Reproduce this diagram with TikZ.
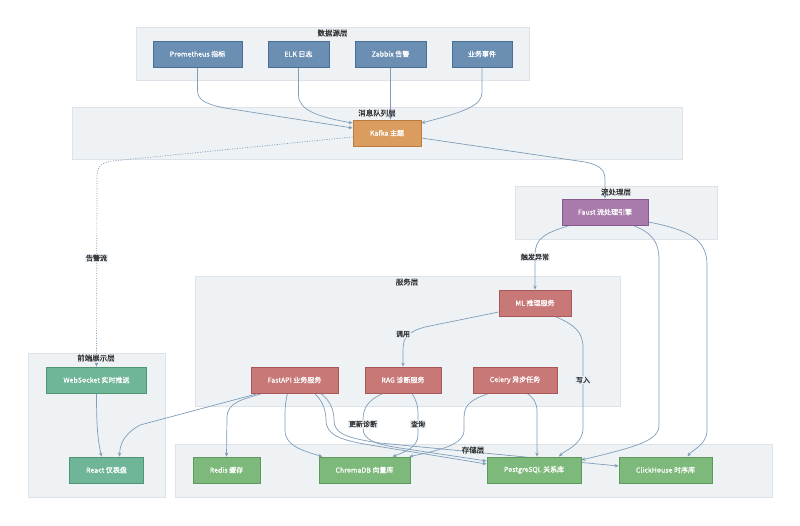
\documentclass[tikz,border=0pt]{standalone}
\usepackage{fontspec}
\setmainfont{Noto Sans CJK SC}[BoldFont=Noto Sans CJK SC, BoldFeatures={FakeBold=0.7}]
\usetikzlibrary{arrows.meta,calc}
\pgfdeclarelayer{bg}
\pgfdeclarelayer{edges}
\pgfsetlayers{bg,edges,main}
\definecolor{srcfill}{HTML}{6B8EB3}
\definecolor{srcdraw}{HTML}{4A6E96}
\definecolor{kfill}{HTML}{DB9D5F}
\definecolor{kdraw}{HTML}{BC7B3C}
\definecolor{ffill}{HTML}{A97BAC}
\definecolor{fdraw}{HTML}{87598B}
\definecolor{svfill}{HTML}{C97878}
\definecolor{svdraw}{HTML}{A95757}
\definecolor{stfill}{HTML}{7DB97A}
\definecolor{stdraw}{HTML}{5C9A59}
\definecolor{fefill}{HTML}{6FB597}
\definecolor{fedraw}{HTML}{4F9677}
\definecolor{clfill}{HTML}{EEF2F5}
\definecolor{cldraw}{HTML}{DDE3E8}
\definecolor{edgec}{HTML}{7F9DB9}
\definecolor{lblfill}{HTML}{E6EDF4}
\definecolor{titletext}{HTML}{333333}
\tikzset{
  box/.style={rectangle, draw, line width=0.8pt, minimum height=26pt, inner sep=0pt, text=white, font=\fontsize{7}{8}\selectfont\bfseries},
  src/.style={box, fill=srcfill, draw=srcdraw},
  kaf/.style={box, fill=kfill, draw=kdraw},
  fst/.style={box, fill=ffill, draw=fdraw},
  svc/.style={box, fill=svfill, draw=svdraw},
  sto/.style={box, fill=stfill, draw=stdraw},
  fe/.style={box, fill=fefill, draw=fedraw},
  cluster/.style={draw=cldraw, fill=clfill, line width=0.6pt},
  ctitle/.style={font=\fontsize{7.5}{8}\selectfont\bfseries, text=titletext, inner sep=0pt},
  flow/.style={draw=edgec, line width=0.7pt, -{Stealth[length=4pt,width=3.5pt]}},
  dotflow/.style={flow, dash pattern=on 1pt off 1.5pt},
  elabel/.style={fill=lblfill, text=titletext, font=\fontsize{7}{8}\selectfont\bfseries, inner sep=1pt}
}
\begin{document}
\begin{tikzpicture}[x=1pt,y=-1pt]
\useasboundingbox (0,0) rectangle (800,525);
% clusters
\begin{pgfonlayer}{bg}
\fill[white] (0,0) rectangle (800,525);
\draw[cluster] (136,27) rectangle (529,80);
\draw[cluster] (72,107) rectangle (682,159);
\draw[cluster] (515,186) rectangle (717,239);
\draw[cluster] (195,276) rectangle (620,406);
\draw[cluster] (28,353) rectangle (165,497);
\draw[cluster] (175,444) rectangle (772,497);
\end{pgfonlayer}
\node[ctitle] (t1) at (332.5,33) {数据源层};
\node[ctitle] (t2) at (377,113) {消息队列层};
\node[ctitle] (t3) at (616,192) {流处理层};
\node[ctitle] (t4) at (407,282) {服务层};
\node[ctitle] (t5) at (96,358) {前端展示层};
\node[ctitle] (t6) at (473,450) {存储层};
% nodes
\node[src, minimum width=89pt] (prom) at (197.5,54) {Prometheus 指标};
\node[src, minimum width=61pt] (elk) at (298.5,54) {ELK 日志};
\node[src, minimum width=71pt] (zab) at (390.5,54) {Zabbix 告警};
\node[src, minimum width=60pt] (biz) at (482,54) {业务事件};
\node[kaf, minimum width=68pt] (kafka) at (387,133) {Kafka 主题};
\node[fst, minimum width=86pt] (faust) at (605,212) {Faust 流处理引擎};
\node[svc, minimum width=72pt] (ml) at (535,303) {ML 推理服务};
\node[svc, minimum width=87pt] (fastapi) at (294.5,380) {FastAPI 业务服务};
\node[svc, minimum width=76pt] (rag) at (403,380) {RAG 诊断服务};
\node[svc, minimum width=84pt] (celery) at (515,380) {Celery 异步任务};
\node[fe, minimum width=100pt] (ws) at (96.5,380) {WebSocket 实时推送};
\node[fe, minimum width=74pt] (react) at (106.5,470) {React 仪表盘};
\node[sto, minimum width=67pt] (redis) at (226.5,470) {Redis 缓存};
\node[sto, minimum width=91pt] (chroma) at (364.5,470) {ChromaDB 向量库};
\node[sto, minimum width=94pt] (pg) at (534,470) {PostgreSQL 关系库};
\node[sto, minimum width=93pt] (ch) at (665.5,470) {ClickHouse 时序库};
% edges
\begin{pgfonlayer}{edges}
\draw[flow] (prom.south) -- (197.5,90) .. controls (197.5,100) and (205,104) .. (225,108) -- ([yshift=5pt]kafka.west);
\draw[flow] (elk.south) -- (298.5,95) .. controls (298.5,110) and (318,117) .. ([yshift=10pt]kafka.west);
\draw[flow] (zab.south) -- (zab.south |- kafka.north);
\draw[flow] (biz.south) -- (482,92) .. controls (482,105) and (468,111) .. ([yshift=10pt]kafka.east);
\draw[flow] ([yshift=-5pt]kafka.east) -- (585,162) .. controls (600,165) and (605,170) .. (605,180) -- (faust.north);
\draw[dotflow] ([yshift=-4pt]kafka.west) -- (112,161) .. controls (100,163) and (97,167) .. (97,178) -- (ws.north);
\draw[flow] ([xshift=-35pt]faust.south) .. controls (545,233) and (535,238) .. (535,255) -- (ml.north);
\draw[flow] ([xshift=28pt]faust.south) .. controls (650,232) and (659,240) .. (659,260) -- (659,425) .. controls (659,440) and (640,446) .. ([yshift=10pt]pg.east);
\draw[flow] ([yshift=-10pt]faust.east) .. controls (690,230) and (707,240) .. (707,265) -- (707,430) .. controls (707,445) and (692,450) .. ([xshift=22pt]ch.north);
\draw[flow] ([yshift=-9pt]ml.west) -- (425,327) .. controls (407,332) and (403,338) .. (403,350) -- (rag.north);
\draw[flow] ([xshift=20pt]ml.south) .. controls (575,325) and (583,332) .. (583,348) -- (583,428) .. controls (583,445) and (565,450) .. ([xshift=25pt]pg.north);
\draw[flow] ([xshift=9pt]rag.south) .. controls (416,400) and (418,405) .. (418,415) -- (418,435) .. controls (418,447) and (405,452) .. ([xshift=28pt]chroma.north);
\draw[flow] ([xshift=-20pt]rag.south) .. controls (368,400) and (363,408) .. (363,420) -- (363,428) .. controls (363,440) and (375,444) .. (400,448) -- ([yshift=9pt]pg.west);
\draw[flow] ([xshift=-36pt]fastapi.south) -- (140,425) .. controls (128,432) and (120,440) .. ([xshift=13pt]react.north);
\draw[flow] ([xshift=-32pt]fastapi.south) .. controls (240,400) and (227,403) .. (227,418) -- (redis.north);
\draw[flow] ([xshift=-7pt]fastapi.south) .. controls (286,400) and (285,405) .. (285,415) -- (285,430) .. controls (285,445) and (300,450) .. ([xshift=-42pt]chroma.north);
\draw[flow] ([xshift=20pt]fastapi.south) .. controls (322,400) and (326,410) .. (326,420) .. controls (326,435) and (340,440) .. (370,445) -- ([yshift=6pt]pg.west);
\draw[flow] ([xshift=26pt]fastapi.south) .. controls (330,400) and (334,410) .. (334,420) .. controls (334,433) and (345,438) .. (380,443) -- ([yshift=4pt]ch.west);
\draw[flow] ([xshift=-26pt]celery.south) .. controls (470,400) and (464,405) .. (464,418) -- (464,430) .. controls (464,445) and (440,450) .. ([xshift=-1pt]chroma.north east);
\draw[flow] ([xshift=12pt]celery.south) .. controls (534,398) and (537,403) .. (537,412) -- ([xshift=3pt]pg.north);
\draw[flow] (ws.south) .. controls (96.5,430) and (98,440) .. ([xshift=-5pt]react.north);
\end{pgfonlayer}
% edge labels
\node[elabel] (lalert) at (96.5,258) {告警流};
\node[elabel] (ltrig) at (535,257) {触发异常};
\node[elabel] (lcall) at (403,334) {调用};
\node[elabel] (lwrite) at (583,380) {写入};
\node[elabel] (lquery) at (418,424) {查询};
\node[elabel] (lupd) at (363,424) {更新诊断};
\end{tikzpicture}
\end{document}
